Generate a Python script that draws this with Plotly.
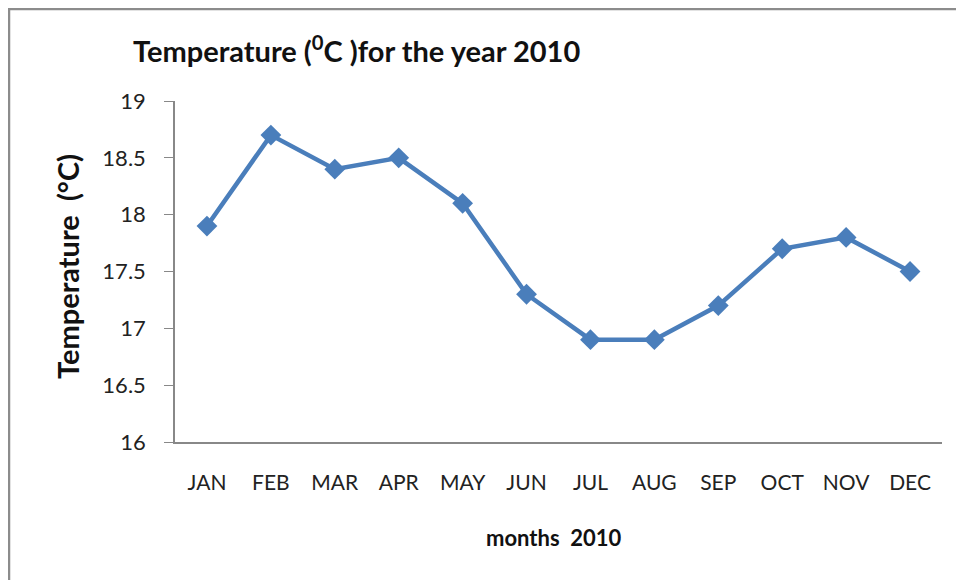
import plotly.graph_objects as go

months = ["JAN", "FEB", "MAR", "APR", "MAY", "JUN", "JUL", "AUG", "SEP", "OCT", "NOV", "DEC"]
temps = [17.9, 18.7, 18.4, 18.5, 18.1, 17.3, 16.9, 16.9, 17.2, 17.7, 17.8, 17.5]
y_ticks = [16, 16.5, 17, 17.5, 18, 18.5, 19]

FONT = "Lato, 'Open Sans', sans-serif"
OFF = 8  # default body margin of the html page

# reference pixel geometry
L, R, T, B = 175, 942, 101, 442
W, H = 964, 580
pw, ph = R - L, B - T

def px(x):
    return (x - L) / pw

def py(y):
    return (B - y) / ph

fig = go.Figure()
fig.add_trace(go.Scatter(
    x=months, y=temps, mode="lines+markers",
    line=dict(color="#4A7EBB", width=4.5),
    marker=dict(symbol="diamond", size=16, color="#4A7EBB"),
    showlegend=False,
))

fig.update_layout(
    width=W - OFF, height=H - OFF,
    margin=dict(l=L - OFF, r=W - R, t=T - OFF, b=H - B),
    paper_bgcolor="white", plot_bgcolor="white",
    font=dict(family=FONT, size=20, color="#222"),
    xaxis=dict(
        type="category", range=[-0.5, 11.5],
        showline=True, linecolor="#888", linewidth=1.5,
        ticks="", showgrid=False, zeroline=False,
        tickfont=dict(size=21, color="#222"),
        ticklabelstandoff=21,
        title=None,
    ),
    yaxis=dict(
        range=[16, 19], tickvals=y_ticks,
        ticktext=[f"{v:g}" for v in y_ticks],
        showline=True, linecolor="#888", linewidth=1.5,
        ticks="outside", ticklen=9, tickcolor="#888",
        showgrid=False, zeroline=False,
        tickfont=dict(size=22, color="#222"),
        ticklabelstandoff=14,
        title=None,
    ),
    shapes=[dict(
        type="rect", xref="paper", yref="paper",
        x0=px(9), x1=px(990), y0=py(600), y1=py(9),
        line=dict(color="#8C8C8C", width=2.5), fillcolor="rgba(0,0,0,0)",
        layer="below",
    )],
    annotations=[
        dict(text="<b>Temperature (<sup>0</sup>C )for the year 2010</b>",
             xref="paper", yref="paper", x=px(131), y=py(49),
             xanchor="left", yanchor="middle", showarrow=False,
             font=dict(size=29, color="#111")),
        dict(text="<b>Temperature\u00a0\u00a0(°C)</b>",
             xref="paper", yref="paper", x=px(67), y=py(267),
             xanchor="center", yanchor="middle", textangle=-90, showarrow=False,
             font=dict(size=29, color="#111")),
        dict(text="<b>months\u00a0\u00a02010</b>",
             xref="paper", yref="paper", x=px(554), y=py(537),
             xanchor="center", yanchor="middle", showarrow=False,
             font=dict(size=22, color="#111")),
    ],
)

fig.write_html("out.html")
